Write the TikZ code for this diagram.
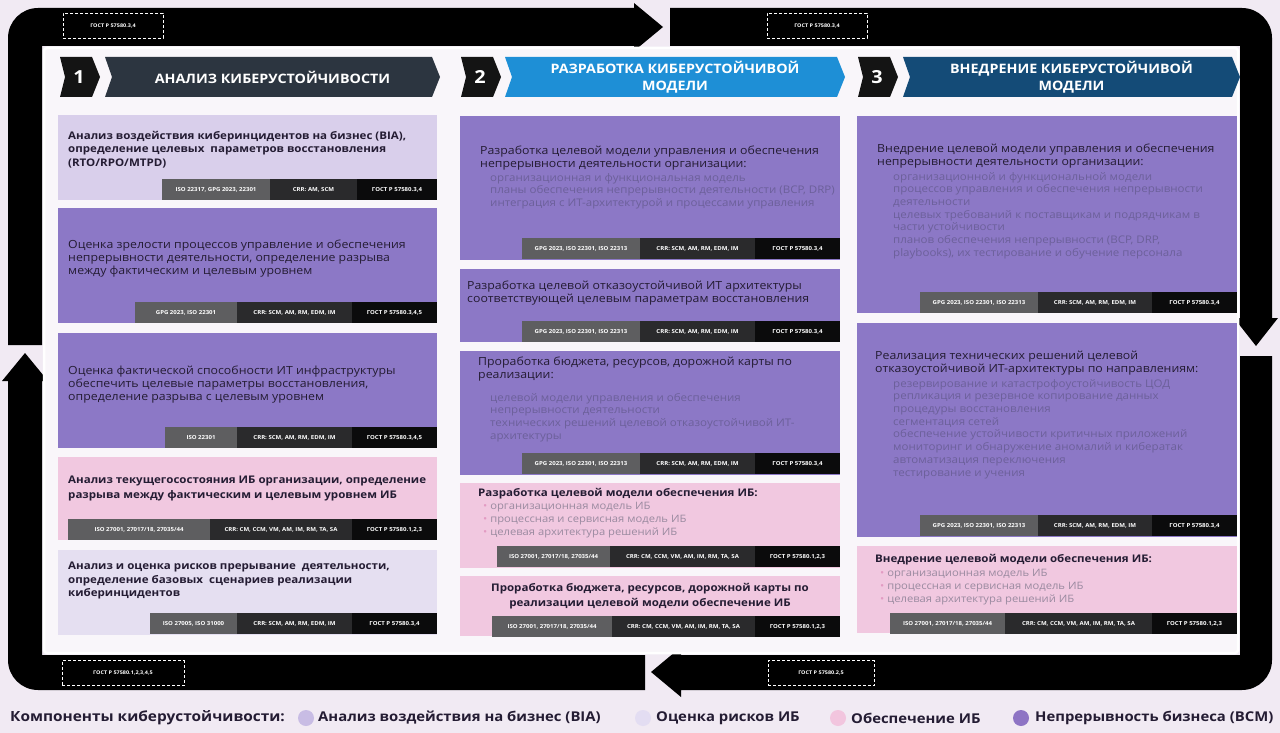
\documentclass[tikz,border=0pt]{standalone}
\usepackage{fontspec}
\setmainfont{Open Sans}[FakeStretch=1.1]
\definecolor{bgout}{HTML}{F1EAF3}
\definecolor{panel}{HTML}{F9F6FA}
\definecolor{bia}{HTML}{D9CFEB}
\definecolor{risk}{HTML}{E5DFF1}
\definecolor{ib}{HTML}{F1C8E0}
\definecolor{bcm}{HTML}{8C78C6}
\definecolor{tagA}{HTML}{5E5E60}
\definecolor{tagB}{HTML}{2A2A2C}
\definecolor{tagC}{HTML}{0B0B0C}
\definecolor{hd1}{HTML}{2C3540}
\definecolor{hd2}{HTML}{1E8FD6}
\definecolor{hd3}{HTML}{144B77}
\definecolor{ink}{HTML}{241C33}
\definecolor{dimtxt}{HTML}{6C609A}
\definecolor{ibtxt}{HTML}{9A8AA0}
\definecolor{bul}{HTML}{E29BC3}
\definecolor{legbia}{HTML}{C8BCE4}
\definecolor{legrisk}{HTML}{E3DDF2}
\definecolor{legib}{HTML}{F2C5DE}
\definecolor{legbcm}{HTML}{8E74C4}
\tikzset{
  box/.style={anchor=north west, inner sep=0pt, outer sep=0pt},
  txt/.style={anchor=north west, inner sep=0pt, align=left, text=ink, font=\fontsize{11.2}{13}\selectfont},
  btxt/.style={anchor=north west, inner sep=0pt, align=left, text=ink, font=\fontsize{10.5}{13.5}\selectfont\bfseries},
  dim/.style={anchor=north west, inner sep=0pt, align=left, text=dimtxt, font=\fontsize{10.5}{12.7}\selectfont},
  ibl/.style={anchor=north west, inner sep=0pt, align=left, text=ibtxt, font=\fontsize{10.2}{13}\selectfont},
  tagbox/.style={anchor=north west, inner sep=0pt, outer sep=0pt, minimum height=21pt, text=white, font=\fontsize{5.5}{6}\selectfont\bfseries, align=center},
  dtag/.style={draw=white, dash pattern=on 3pt off 2pt, line width=1pt, text=white, font=\fontsize{5}{6}\selectfont\bfseries, minimum width=100pt, minimum height=25pt, inner sep=0pt},
  hdtxt/.style={text=white, font=\fontsize{13}{16.5}\selectfont\bfseries, align=center, inner sep=0pt},
  numtxt/.style={text=white, font=\fontsize{18}{18}\selectfont\bfseries, inner sep=0pt},
  legt/.style={anchor=west, inner sep=0pt, text=ink, font=\fontsize{13.5}{15}\selectfont\bfseries},
  legc/.style={circle, minimum size=16pt, inner sep=0pt}
}
\def\colR{437}
\newcommand{\tagrow}[8]{%
  \node[tagbox, fill=tagA, minimum width={(#4-#3)*1pt}] (#1a) at (#3,#2) {#6};
  \node[tagbox, fill=tagB, minimum width={(#5-#4)*1pt}] (#1b) at (#4,#2) {#7};
  \node[tagbox, fill=tagC, minimum width={(\colR-#5)*1pt}] (#1c) at (#5,#2) {#8};}
\newcommand{\chev}[5]{% name, x1, x2, color, text
  \fill[#4] (#2,57) -- (#3-8,57) -- (#3,77) -- (#3-8,97) -- (#2,97) -- (#2+7,77) -- cycle;
  \node[hdtxt] (#1) at ({(#2+#3)/2},77) {#5};}
\newcommand{\numchev}[3]{% name, x1, digit
  \fill[black!92] (#2,57) -- (#2+32,57) -- (#2+40,77) -- (#2+32,97) -- (#2,97) -- (#2+5,77) -- cycle;
  \node[numtxt] (#1) at (#2+19,77) {#3};}
\begin{document}
\begin{tikzpicture}[x=1pt,y=-1pt]
\useasboundingbox (0,0) rectangle (1280,733);
\fill[bgout] (0,0) rectangle (1280,733);
% frame
\fill[black, rounded corners=30pt] (8,345) -- (8,8) -- (300,8) [sharp corners] -- (634,8) -- (634,3) -- (663,27) -- (634,51) -- (634,46) -- (42,46) -- (42,345) -- cycle;
\fill[black] (670,8) -- (1000,8) [rounded corners=30pt] -- (1272,8) -- (1272,200) [sharp corners] -- (1272,318) -- (1278,318) -- (1256,346) -- (1234,318) -- (1240,318) -- (1240,46) -- (670,46) -- cycle;
\fill[black] (1240,356) -- (1272,356) -- (1272,500) [rounded corners=30pt] -- (1272,690) -- (900,690) [sharp corners] -- (681,690) -- (681,697) -- (651,672) -- (681,647) -- (681,655) -- (1240,655) -- cycle;
\fill[black] (645,655) -- (645,690) -- (300,690) [rounded corners=30pt] -- (8,690) -- (8,500) [sharp corners] -- (8,381) -- (2,381) -- (25,353) -- (48,381) -- (42,381) -- (42,655) -- cycle;
\draw[white, line width=2.5pt, fill=panel, rounded corners=3pt] (44,48) rectangle (1238,653);
% frame tags
\node[dtag] (ft1) at (113,26) {ГОСТ Р 57580.3,4};
\node[dtag] (ft2) at (817,26) {ГОСТ Р 57580.3,4};
\node[dtag, minimum width=122pt] (ft3) at (123,673) {ГОСТ Р 57580.1,2,3,4,5};
\node[dtag, minimum width=106pt] (ft4) at (821,673) {ГОСТ Р 57580.2,5};
% headers
\numchev{n1}{60}{1}
\chev{h1}{105}{440}{hd1}{АНАЛИЗ КИБЕРУСТОЙЧИВОСТИ}
\numchev{n2}{461}{2}
\chev{h2}{505}{845}{hd2}{РАЗРАБОТКА КИБЕРУСТОЙЧИВОЙ\\МОДЕЛИ}
\numchev{n3}{858}{3}
\chev{h3}{903}{1240}{hd3}{ВНЕДРЕНИЕ КИБЕРУСТОЙЧИВОЙ\\МОДЕЛИ}
% ---------- column 1
\def\colR{437}
\node[box, fill=bia, minimum width=379pt, minimum height=85pt] (a1) at (58,115) {};
\node[btxt] (a1t) at (68,131) {Анализ воздействия киберинцидентов на бизнес (BIA),\\определение целевых\ \ параметров восстановления\\(RTO/RPO/MTPD)};
\tagrow{a1g}{179}{162}{270}{357}{ISO 22317, GPG 2023, 22301}{CRR: AM, SCM}{ГОСТ Р 57580.3,4}
\node[box, fill=bcm, minimum width=379pt, minimum height=115pt] (a2) at (58,208) {};
\node[txt] (a2t) at (68,240) {Оценка зрелости процессов управление и обеспечения\\непрерывности деятельности, определение разрыва\\между фактическим и целевым уровнем};
\tagrow{a2g}{302}{135}{237}{352}{GPG 2023, ISO 22301}{CRR: SCM, AM, RM, EDM, IM}{ГОСТ Р 57580.3,4,5}
\node[box, fill=bcm, minimum width=379pt, minimum height=115pt] (a3) at (58,333) {};
\node[txt] (a3t) at (68,366) {Оценка фактической способности ИТ инфраструктуры\\обеспечить целевые параметры восстановления,\\определение разрыва с целевым уровнем};
\tagrow{a3g}{427}{165}{237}{352}{ISO 22301}{CRR: SCM, AM, RM, EDM, IM}{ГОСТ Р 57580.3,4,5}
\node[box, fill=ib, minimum width=379pt, minimum height=83pt] (a4) at (58,457) {};
\node[btxt, font=\fontsize{10.5}{15}\selectfont\bfseries] (a4t) at (68,476) {Анализ текущегосостояния ИБ организации, определение\\разрыва между фактическим и целевым уровнем ИБ};
\tagrow{a4g}{519}{68}{210}{352}{ISO 27001, 27017/18, 27035/44}{CRR: CM, CCM, VM, AM, IM, RM, TA, SA}{ГОСТ Р 57580.1,2,3}
\node[box, fill=risk, minimum width=379pt, minimum height=85pt] (a5) at (58,550) {};
\node[btxt] (a5t) at (68,562) {Анализ и оценка рисков прерывание\ \ деятельности,\\определение базовых\ \ сценариев реализации\\киберинцидентов};
\tagrow{a5g}{613}{150}{237}{352}{ISO 27005, ISO 31000}{CRR: SCM, AM, RM, EDM, IM}{ГОСТ Р 57580.3,4}
% ---------- column 2
\def\colR{840}
\node[box, fill=bcm, minimum width=380pt, minimum height=144pt] (b1) at (460,116) {};
\node[txt] (b1t) at (480,146) {Разработка целевой модели управления и обеспечения\\непрерывности деятельности организации:};
\node[dim] (b1d) at (490,173) {организационная и функциональная модель\\планы обеспечения непрерывности деятельности (BCP, DRP)\\интеграция с ИТ-архитектурой и процессами управления};
\tagrow{b1g}{238}{522}{640}{755}{GPG 2023, ISO 22301, ISO 22313}{CRR: SCM, AM, RM, EDM, IM}{ГОСТ Р 57580.3,4}
\node[box, fill=bcm, minimum width=380pt, minimum height=73pt] (b2) at (460,269) {};
\node[txt] (b2t) at (467,281) {Разработка целевой отказоустойчивой ИТ архитектуры\\соответствующей целевым параметрам восстановления};
\tagrow{b2g}{321}{522}{640}{755}{GPG 2023, ISO 22301, ISO 22313}{CRR: SCM, AM, RM, EDM, IM}{ГОСТ Р 57580.3,4}
\node[box, fill=bcm, minimum width=380pt, minimum height=124pt] (b3) at (460,351) {};
\node[txt] (b3t) at (478,357) {Проработка бюджета, ресурсов, дорожной карты по\\реализации:};
\node[dim] (b3d) at (490,393) {целевой модели управления и обеспечения\\непрерывности деятельности\\технических решений целевой отказоустойчивой ИТ-\\архитектуры};
\tagrow{b3g}{453}{522}{640}{755}{GPG 2023, ISO 22301, ISO 22313}{CRR: SCM, AM, RM, EDM, IM}{ГОСТ Р 57580.3,4}
\node[box, fill=ib, minimum width=380pt, minimum height=85pt] (b4) at (460,483) {};
\node[btxt] (b4t) at (478,488) {Разработка целевой модели обеспечения ИБ:};
\node[ibl] (b4d) at (483,502) {\textcolor{bul}{•}\ организационная модель ИБ\\\textcolor{bul}{•}\ процессная и сервисная модель ИБ\\\textcolor{bul}{•}\ целевая архитектура решений ИБ};
\tagrow{b4g}{546}{497}{610}{755}{ISO 27001, 27017/18, 27035/44}{CRR: CM, CCM, VM, AM, IM, RM, TA, SA}{ГОСТ Р 57580.1,2,3}
\node[box, fill=ib, minimum width=380pt, minimum height=60pt] (b5) at (460,576) {};
\node[btxt, anchor=center, align=center, font=\fontsize{10.5}{15}\selectfont\bfseries] (b5t) at (650,596) {Проработка бюджета, ресурсов, дорожной карты по\\реализации целевой модели обеспечение ИБ};
\tagrow{b5g}{616}{492}{612}{755}{ISO 27001, 27017/18, 27035/44}{CRR: CM, CCM, VM, AM, IM, RM, TA, SA}{ГОСТ Р 57580.1,2,3}
% ---------- column 3
\def\colR{1237}
\node[box, fill=bcm, minimum width=380pt, minimum height=197pt] (c1) at (857,116) {};
\node[txt] (c1t) at (877,144) {Внедрение целевой модели управления и обеспечения\\непрерывности деятельности организации:};
\node[dim] (c1d) at (893,172) {организационной и функциональной модели\\процессов управления и обеспечения непрерывности\\деятельности\\целевых требований к поставщикам и подрядчикам в\\части устойчивости\\планов обеспечения непрерывности (BCP, DRP,\\playbooks), их тестирование и обучение персонала};
\tagrow{c1g}{292}{920}{1038}{1152}{GPG 2023, ISO 22301, ISO 22313}{CRR: SCM, AM, RM, EDM, IM}{ГОСТ Р 57580.3,4}
\node[box, fill=bcm, minimum width=380pt, minimum height=214pt] (c2) at (857,323) {};
\node[txt] (c2t) at (875,351) {Реализация технических решений целевой\\отказоустойчивой ИТ-архитектуры по направлениям:};
\node[dim] (c2d) at (893,379) {резервирование и катастрофоустойчивость ЦОД\\репликация и резервное копирование данных\\процедуры восстановления\\сегментация сетей\\обеспечение устойчивости критичных приложений\\мониторинг и обнаружение аномалий и кибератак\\автоматизация переключения\\тестирование и учения};
\tagrow{c2g}{515}{920}{1038}{1152}{GPG 2023, ISO 22301, ISO 22313}{CRR: SCM, AM, RM, EDM, IM}{ГОСТ Р 57580.3,4}
\node[box, fill=ib, minimum width=380pt, minimum height=87pt] (c3) at (857,546) {};
\node[btxt] (c3t) at (875,554) {Внедрение целевой модели обеспечения ИБ:};
\node[ibl] (c3d) at (880,569) {\textcolor{bul}{•}\ организационная модель ИБ\\\textcolor{bul}{•}\ процессная и сервисная модель ИБ\\\textcolor{bul}{•}\ целевая архитектура решений ИБ};
\tagrow{c3g}{613}{890}{1005}{1152}{ISO 27001, 27017/18, 27035/44}{CRR: CM, CCM, VM, AM, IM, RM, TA, SA}{ГОСТ Р 57580.1,2,3}
% ---------- legend
\node[legt, font=\fontsize{14}{15}\selectfont\bfseries] (lg0) at (10,718) {Компоненты киберустойчивости:};
\node[legc, fill=legbia] (lc1) at (306,718) {};
\node[legt] (lt1) at (318,718) {Анализ воздействия на бизнес (BIA)};
\node[legc, fill=legrisk] (lc2) at (643,718) {};
\node[legt] (lt2) at (656,718) {Оценка рисков ИБ};
\node[legc, fill=legib] (lc3) at (838,718) {};
\node[legt] (lt3) at (851,718) {Обеспечение ИБ};
\node[legc, fill=legbcm] (lc4) at (1021,718) {};
\node[legt] (lt4) at (1035,718) {Непрерывность бизнеса (BCM)};
\end{tikzpicture}
\end{document}
